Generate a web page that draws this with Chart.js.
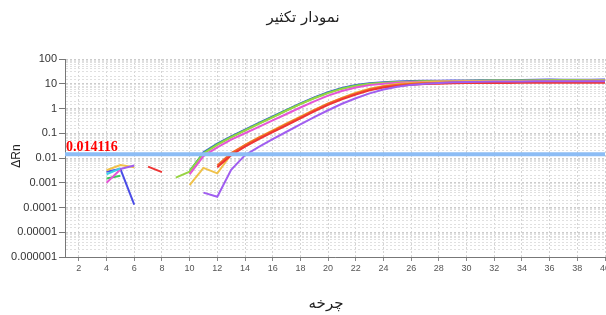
<!DOCTYPE html>
<html>
<head>
<meta charset="utf-8">
<script src="https://cdn.jsdelivr.net/npm/chart.js@4.4.1/dist/chart.umd.min.js"></script>
<style>
    body { margin: 0; background: #fff; }
    canvas { display: block; }
</style>
</head>
<body>
<canvas id="ampChart" width="606" height="315"></canvas>
<script>
// cycle numbers (x)
const cycles = [1, 2, 3, 4, 5, 6, 7, 8, 9, 10,
    11, 12, 13, 14, 15, 16, 17, 18, 19, 20,
    21, 22, 23, 24, 25, 26, 27, 28, 29, 30,
    31, 32, 33, 34, 35, 36, 37, 38, 39, 40];
const xTicks = [2, 4, 6, 8, 10, 12, 14, 16, 18, 20, 22, 24, 26, 28, 30, 32, 34, 36, 38, 40];
const yTickLabels = ["0.000001", "0.00001", "0.0001", "0.001", "0.01", "0.1", "1", "10", "100"];
const threshold = 0.014116;

// ΔRn per well, cycles 1..40 (null = not drawn)
const purpleRn = [null, null, null, null, 0.0036, 0.005, null, null, null, null,
    0.0004, 0.00027, 0.0033, 0.013, 0.028, 0.058, 0.115, 0.23, 0.45, 0.85,
    1.55, 2.6, 4.1, 5.9, 7.6, 9.0, 10.0, 10.8, 11.4, 11.8,
    12.0, 12.2, 12.3, 12.4, 12.5, 12.5, 12.6, 12.6, 12.7, 12.7];
const redRn = [null, null, null, null, null, null, 0.0045, 0.0027, null, null,
    null, 0.0042, 0.013, 0.029, 0.058, 0.11, 0.21, 0.4, 0.76, 1.4,
    2.35, 3.7, 5.4, 7.0, 8.2, 9.1, 9.7, 10.1, 10.4, 10.6,
    10.7, 10.8, 10.8, 10.9, 10.9, 11.0, 11.0, 11.0, 11.1, 11.1];
const orangeRn = [null, null, null, null, null, null, null, null, null, null,
    null, 0.005, 0.016, 0.033, 0.066, 0.125, 0.24, 0.45, 0.85, 1.55,
    2.6, 4.1, 6.0, 7.8, 9.2, 10.1, 10.7, 11.1, 11.4, 11.6,
    11.7, 11.8, 11.9, 11.9, 12.0, 12.0, 12.1, 12.1, 12.2, 12.2];
const yellowRn = [null, null, null, 0.0032, 0.0052, 0.0042, null, null, null, 0.0008,
    0.004, 0.0024, 0.014, 0.034, 0.068, 0.13, 0.25, 0.47, 0.88, 1.6,
    2.7, 4.3, 6.3, 8.2, 9.7, 10.8, 11.5, 12.0, 12.4, 12.6,
    12.8, 12.9, 13.0, 13.0, 13.1, 13.1, 13.2, 13.2, 13.2, 13.3];
const cyanRn = [null, null, null, 0.0022, 0.0038, null, null, null, null, null,
    null, null, null, null, null, null, null, null, null, null,
    null, null, null, null, null, null, null, null, null, null,
    null, null, null, null, null, null, null, null, null, null];
const pinkRn = [null, null, null, 0.001, 0.0034, null, null, null, null, 0.0022,
    0.012, 0.027, 0.055, 0.1, 0.18, 0.33, 0.6, 1.1, 1.95, 3.3,
    5.1, 7.1, 8.8, 10.0, 10.9, 11.5, 11.9, 12.2, 12.4, 12.6,
    12.7, 12.8, 12.8, 12.9, 12.9, 13.0, 13.0, 13.0, 13.1, 13.1];
const lightGreenRn = [null, null, null, null, null, null, null, null, 0.0016, 0.0028,
    0.015, 0.034, 0.068, 0.128, 0.24, 0.44, 0.82, 1.5, 2.6, 4.2,
    6.2, 8.2, 9.7, 10.8, 11.6, 12.1, 12.5, 12.8, 13.0, 13.2,
    13.3, 13.4, 13.5, 13.6, 13.6, 13.7, 13.7, 13.8, 13.8, 13.9];
const greenRn = [null, null, null, 0.0015, 0.0019, null, null, null, null, 0.003,
    0.016, 0.036, 0.072, 0.135, 0.25, 0.46, 0.85, 1.55, 2.7, 4.4,
    6.5, 8.5, 10.0, 11.0, 11.7, 12.1, 12.4, 12.6, 12.8, 13.0,
    13.1, 13.1, 13.2, 13.2, 13.3, 13.3, 13.4, 13.4, 13.5, 13.5];
const blueRn = [null, null, null, 0.0028, 0.0036, 0.00013, null, null, null, 0.0026,
    0.017, 0.038, 0.075, 0.14, 0.26, 0.48, 0.88, 1.6, 2.8, 4.6,
    6.8, 8.9, 10.5, 11.6, 12.3, 12.8, 13.1, 13.3, 13.5, 13.6,
    13.7, 13.8, 13.9, 14.1, 14.4, 14.7, 14.6, 14.5, 14.6, 14.7];

const wells = [
    { values: purpleRn, color: "#a05ef0" },
    { values: redRn, color: "#ee3434" },
    { values: orangeRn, color: "#f06a28" },
    { values: yellowRn, color: "#f0c24a" },
    { values: cyanRn, color: "#3ed0e8" },
    { values: pinkRn, color: "#e455d6" },
    { values: lightGreenRn, color: "#98d443" },
    { values: greenRn, color: "#3cc85a" },
    { values: blueRn, color: "#4b4de6" }
];

function isDecade(v) {
    const e = Math.log10(v);
    return Math.abs(e - Math.round(e)) < 1e-6;
}

// titles and threshold label drawn on top
const textPlugin = {
    id: "texts",
    afterDraw(chart) {
        const ctx = chart.ctx;
        const yScale = chart.scales.y;
        ctx.save();
        ctx.fillStyle = "#222";
        ctx.textAlign = "center";
        ctx.textBaseline = "middle";
        ctx.font = '15px "DejaVu Sans", sans-serif';
        ctx.fillText("نمودار تکثیر", 303, 18);
        ctx.fillText("چرخه", 326, 304);

        ctx.translate(17, 156);
        ctx.rotate(-Math.PI / 2);
        ctx.font = '12px "Liberation Sans", Arial, sans-serif';
        ctx.fillText("ΔRn", 0, 0);
        ctx.restore();

        ctx.save();
        ctx.fillStyle = "#ff0000";
        ctx.font = 'bold 14px "Liberation Serif", serif';
        ctx.textAlign = "left";
        ctx.textBaseline = "alphabetic";
        ctx.fillText(threshold.toString(), chart.chartArea.left + 1, yScale.getPixelForValue(threshold) - 3);
        ctx.restore();
    }
};

const datasets = wells.map(w => ({
    data: cycles.map((c, i) => ({ x: c, y: w.values[i] })),
    borderColor: w.color,
    borderWidth: 2,
    pointRadius: 0,
    tension: 0,
    spanGaps: false,
    order: 1
}));

datasets.push({
    data: [{ x: cycles[0], y: threshold }, { x: cycles[cycles.length - 1], y: threshold }],
    borderColor: "#8dbdf5",
    borderWidth: 4,
    pointRadius: 0,
    order: 0
});

new Chart(document.getElementById("ampChart"), {
    type: "line",
    data: { datasets },
    options: {
        responsive: false,
        animation: false,
        layout: { autoPadding: false, padding: { top: 59, left: 0, right: 1, bottom: 0 } },
        plugins: { legend: { display: false }, tooltip: { enabled: false } },
        scales: {
            x: {
                type: "linear",
                min: 1,
                max: 40,
                afterFit: s => {
                    s.height = 58;
                    s.paddingLeft = 0;
                    s.paddingRight = 0;
                },
                afterBuildTicks: s => { s.ticks = xTicks.map(v => ({ value: v })); },
                grid: { color: "#d4d4d4", tickColor: "#888", tickLength: 4 },
                border: { display: true, color: "#777", width: 1, dash: [2, 2] },
                ticks: {
                    autoSkip: false,
                    maxRotation: 0,
                    padding: 2,
                    color: "#555",
                    font: { family: '"Liberation Sans", Arial, sans-serif', size: 9 }
                }
            },
            y: {
                type: "logarithmic",
                min: 0.000001,
                max: 100,
                afterFit: s => {
                    s.width = 65;
                    s.paddingTop = 0;
                    s.paddingBottom = 0;
                },
                grid: {
                    color: ctx => isDecade(ctx.tick.value) ? "#cccccc" : "#e0e0e0",
                    tickColor: ctx => isDecade(ctx.tick.value) ? "#777" : "rgba(0,0,0,0)",
                    tickLength: 6
                },
                border: { display: true, color: "#777", width: 1, dash: [2, 2] },
                ticks: {
                    autoSkip: false,
                    padding: 2,
                    color: "#333",
                    font: { family: '"Liberation Sans", Arial, sans-serif', size: 11 },
                    callback: v => isDecade(v) ? yTickLabels[Math.round(Math.log10(v)) + 6] : ""
                }
            }
        }
    },
    plugins: [textPlugin]
});
</script>
</body>
</html>
